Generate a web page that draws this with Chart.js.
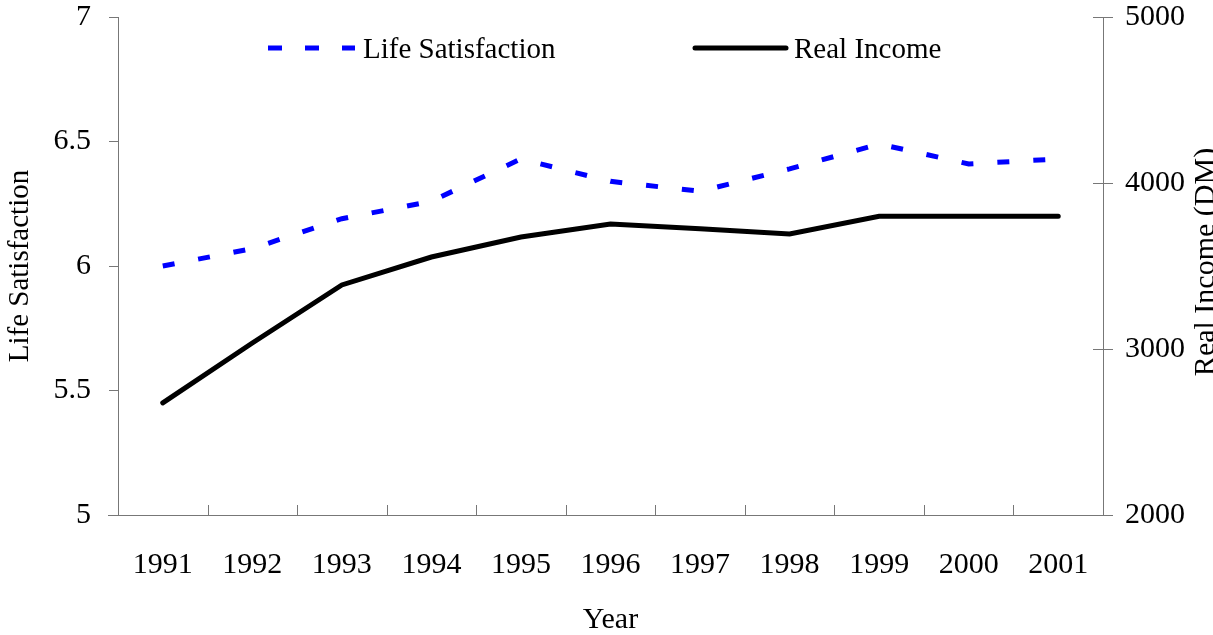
<!DOCTYPE html>
<html>
<head>
<meta charset="utf-8">
<script src="https://cdn.jsdelivr.net/npm/chart.js@4"></script>
<style>
  html, body { margin: 0; padding: 0; background: #fff; }
  #wrap { width: 1213px; height: 635px; }
</style>
</head>
<body>
<div id="wrap"><canvas id="chart" width="1213" height="635"></canvas></div>
<script>
const years = ["1991", "1992", "1993", "1994", "1995", "1996", "1997", "1998", "1999", "2000", "2001"];
const lifeSatisfaction = [6.00, 6.07, 6.19, 6.26, 6.43, 6.34, 6.30, 6.39, 6.49, 6.41, 6.43];
const realIncome = [2675, 3036, 3386, 3554, 3675, 3753, 3725, 3693, 3800, 3800, 3800];
const lsTicks = [5, 5.5, 6, 6.5, 7];
const incomeTicks = [2000, 3000, 4000, 5000];

const FONT = "Liberation Serif";
const AXIS = "#777";

// legend, inner tick marks and right title drawn by hand
const extras = {
    id: "extras",
    afterDraw(chart) {
        const ctx = chart.ctx;
        const x = chart.scales.x, yR = chart.scales.yR;
        const area = chart.chartArea;
        ctx.save();
        ctx.strokeStyle = AXIS;
        ctx.lineWidth = 1;
        ctx.beginPath();
        for (let i = 1; i < years.length; i++) {
            const px = Math.round((x.getPixelForValue(i - 1) + x.getPixelForValue(i)) / 2) + 0.5;
            ctx.moveTo(px, area.bottom);
            ctx.lineTo(px, area.bottom - 10);
        }
        yR.ticks.forEach(t => {
            const py = Math.round(yR.getPixelForValue(t.value)) + 0.5;
            ctx.moveTo(area.right - 10, py);
            ctx.lineTo(area.right, py);
        });
        // bottom axis runs out under the left ticks
        ctx.moveTo(area.left - 10, area.bottom + 0.5);
        ctx.lineTo(area.left, area.bottom + 0.5);
        ctx.stroke();

        // legend
        const items = [[268, 355], [695, 786]];
        ctx.font = "29px '" + FONT + "'";
        ctx.textBaseline = "middle";
        ctx.fillStyle = "#000";
        chart.data.datasets.forEach((ds, i) => {
            const [a, b] = items[i];
            ctx.beginPath();
            ctx.strokeStyle = ds.borderColor;
            ctx.lineWidth = ds.borderWidth;
            ctx.setLineDash(i === 0 ? [14, 23] : []);
            ctx.lineCap = i === 0 ? "butt" : "round";
            ctx.moveTo(a, 48);
            ctx.lineTo(b, 48);
            ctx.stroke();
            ctx.setLineDash([]);
            ctx.fillText(ds.label, b + 8, 50);
        });

        // right axis title, reading bottom to top
        ctx.font = "30px '" + FONT + "'";
        ctx.translate(1206, 262);
        ctx.rotate(-Math.PI / 2);
        ctx.textAlign = "center";
        ctx.fillText("Real Income (DM)", 0, 0);
        ctx.restore();
    }
};

const fitY = w => s => {
    s.width = w;
    s.paddingTop = 0;
    s.paddingBottom = 0;
};

new Chart(document.getElementById("chart"), {
    type: "line",
    data: {
        labels: years,
        datasets: [{
            label: "Life Satisfaction",
            data: lifeSatisfaction,
            yAxisID: "yL",
            borderColor: "#0000ff",
            borderWidth: 5,
            borderDash: [12, 24],
            pointRadius: 0,
            tension: 0
        }, {
            label: "Real Income",
            data: realIncome,
            yAxisID: "yR",
            borderColor: "#000",
            borderWidth: 5,
            borderCapStyle: "round",
            pointRadius: 0,
            tension: 0
        }]
    },
    options: {
        responsive: false,
        animation: false,
        layout: { padding: { top: 17 } },
        plugins: {
            legend: { display: false },
            tooltip: { enabled: false }
        },
        scales: {
            x: {
                offset: true,
                grid: { display: false },
                border: { color: AXIS, width: 1 },
                ticks: { color: "#000", font: { family: FONT, size: 30 }, padding: 24, maxRotation: 0 },
                title: { display: true, text: "Year", color: "#000", font: { family: FONT, size: 30, lineHeight: 1 }, padding: 0 },
                afterFit: s => { s.height = 120; s.paddingLeft = 0; s.paddingRight = 0; }
            },
            yL: {
                position: "left",
                min: 5,
                max: 7,
                afterBuildTicks: s => { s.ticks = lsTicks.map(v => ({ value: v })); },
                grid: { drawOnChartArea: false, tickLength: 9, color: AXIS },
                border: { color: AXIS, width: 1 },
                ticks: { color: "#000", font: { family: FONT, size: 30 }, padding: 18, callback: v => String(v) },
                title: { display: true, text: "Life Satisfaction", color: "#000", font: { family: FONT, size: 29 }, padding: 3 },
                afterFit: fitY(118)
            },
            yR: {
                position: "right",
                min: 2000,
                max: 5000,
                afterBuildTicks: s => { s.ticks = incomeTicks.map(v => ({ value: v })); },
                grid: { drawOnChartArea: false, tickLength: 10, color: AXIS },
                border: { color: AXIS, width: 1 },
                ticks: { color: "#000", font: { family: FONT, size: 30 }, padding: 12, callback: v => String(v) },
                afterFit: fitY(110)
            }
        }
    },
    plugins: [extras]
});
</script>
</body>
</html>
